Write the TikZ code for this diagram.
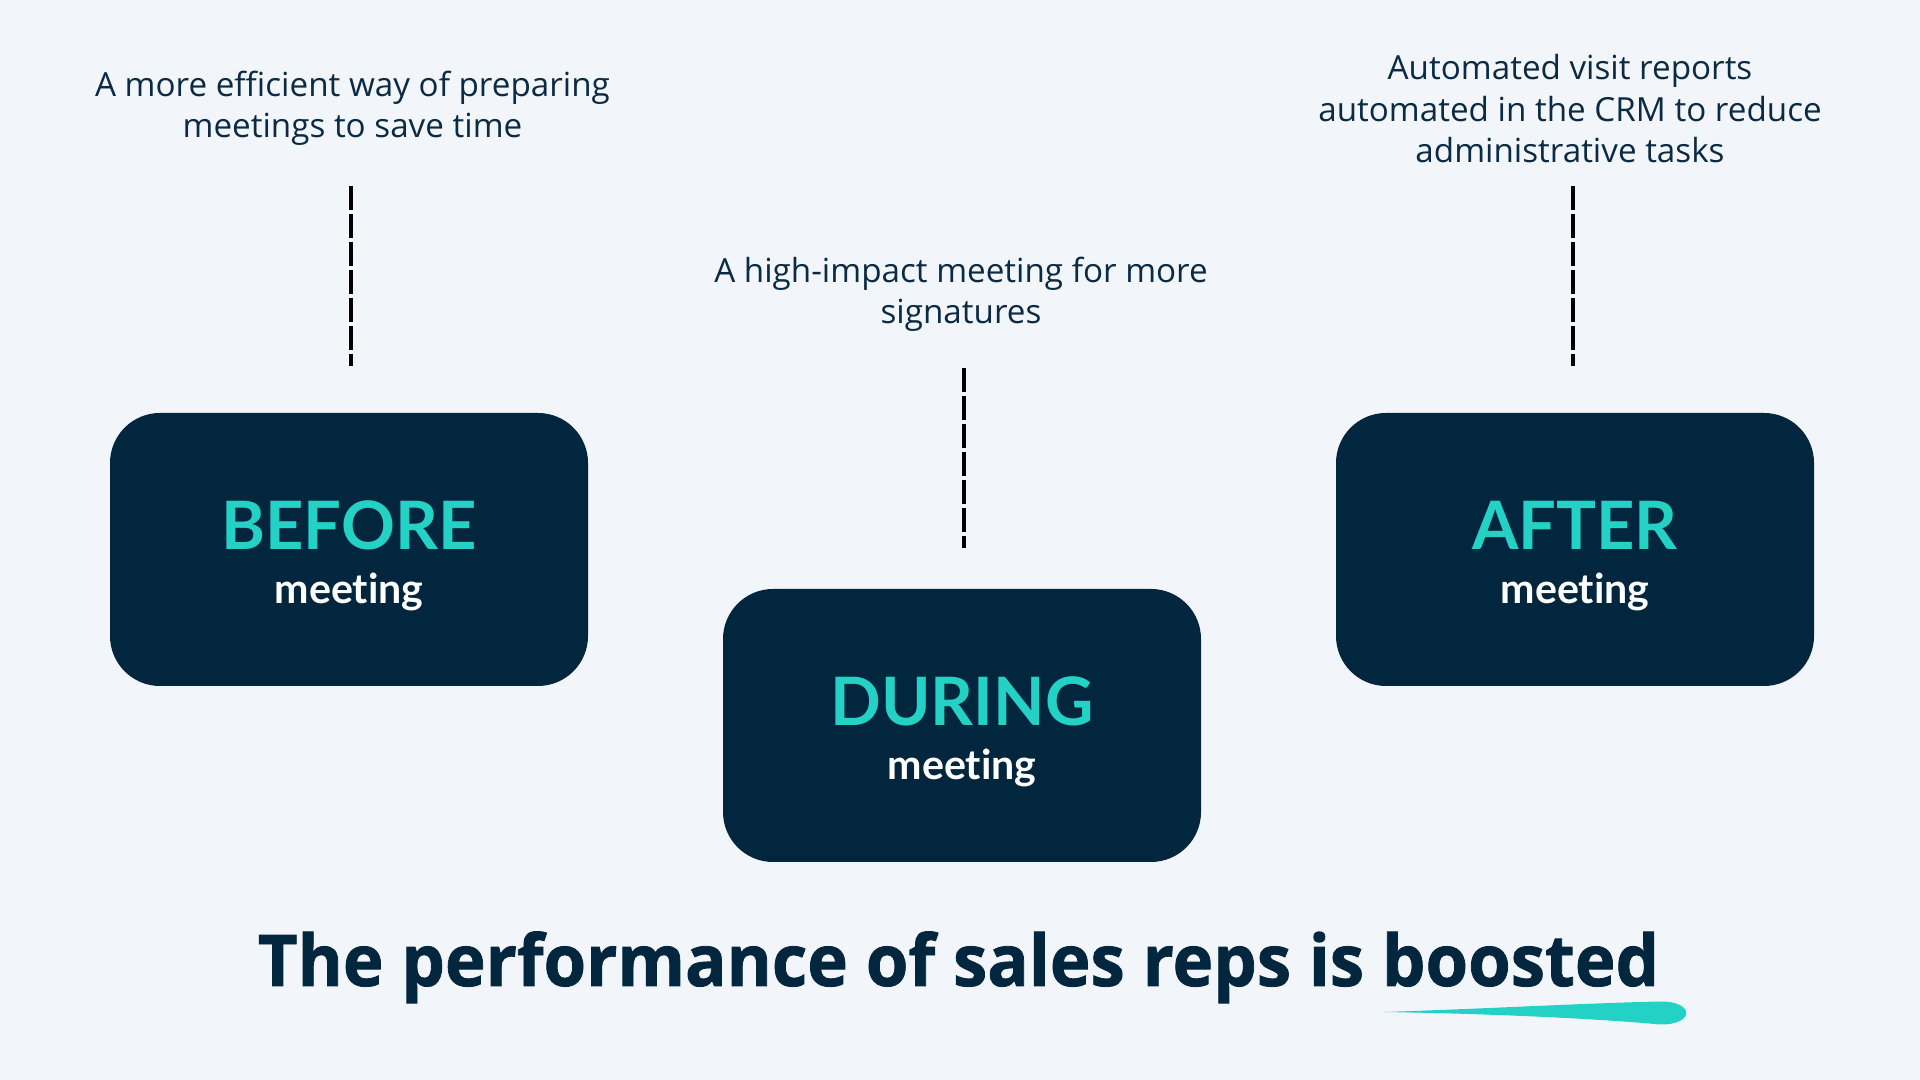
\documentclass[tikz,border=0pt]{standalone}
\usepackage{fontspec}
\usepackage{xcolor}
\usepackage{tikz}
\setmainfont{Open Sans}
\newfontfamily\latofont{Lato}[RawFeature=-liga]
\newfontfamily\headfont{Open Sans}[BoldFeatures={FakeBold=1.1}]
\definecolor{pagebg}{HTML}{F2F6FB}
\definecolor{boxnavy}{HTML}{02263E}
\definecolor{inknavy}{HTML}{0B2A44}
\definecolor{brushteal}{HTML}{24D2C5}

\begin{document}
\begin{tikzpicture}[scale=1,
  stage/.style={fill=boxnavy,rounded corners=0.5cm,minimum width=4.78cm,minimum height=2.73cm,inner sep=0pt},
  stagehead/.style={anchor=base,inner sep=0pt,text=brushteal,font=\latofont\bfseries\fontsize{19pt}{19pt}\selectfont},
  stagesub/.style={anchor=base,inner sep=0pt,text=white,font=\latofont\bfseries\fontsize{11.7pt}{11.7pt}\selectfont},
  remark/.style={anchor=north,inner sep=0pt,align=center,text=inknavy,font=\fontsize{9.45pt}{11.7pt}\selectfont},
  guide/.style={black,line width=1.15pt,dash pattern=on 0.24cm off 0.04cm},
  headline/.style={anchor=base,inner sep=0pt,text=boxnavy,xscale=0.965,transform shape,font=\headfont\bfseries\fontsize{20.3pt}{20.3pt}\selectfont}]
\fill[pagebg] (0,0) rectangle (19.2,10.8);
\useasboundingbox (0,0) rectangle (19.2,10.8);

\node[stage] (before) at (3.49,5.305) {};
\node[stage] (during) at (9.62,3.545) {};
\node[stage] (after) at (15.75,5.305) {};

\node[stagehead] (beforehead) at (before.center) {BEFORE};
\node[stagesub] (beforesub) at ([yshift=-0.54cm]before.center) {meeting};
\node[stagehead] (duringhead) at (during.center) {DURING};
\node[stagesub] (duringsub) at ([yshift=-0.54cm]during.center) {meeting};
\node[stagehead] (afterhead) at (after.center) {AFTER};
\node[stagesub] (aftersub) at ([yshift=-0.54cm]after.center) {meeting};

\node[remark] (beforenote) at (3.525,10.10) {A more efficient way of preparing\\meetings to save time};
\node[remark] (duringnote) at (9.61,8.24) {A high-impact meeting for more\\signatures};
\node[remark] (afternote) at (15.70,10.26) {Automated visit reports\\automated in the CRM to reduce\\administrative tasks};

\draw[guide] ([xshift=0.02cm,yshift=2.26cm]before.north) -- ([xshift=0.02cm,yshift=0.46cm]before.north);
\draw[guide] ([xshift=0.02cm,yshift=2.20cm]during.north) -- ([xshift=0.02cm,yshift=0.40cm]during.north);
\draw[guide] ([xshift=-0.02cm,yshift=2.26cm]after.north) -- ([xshift=-0.02cm,yshift=0.46cm]after.north);

\node[headline] (headline) at (9.585,0.94) {The performance of sales reps is boosted};
\fill[brushteal] (13.83,0.68) .. controls (14.8,0.71) and (15.9,0.77) .. (16.6,0.785)
  .. controls (16.95,0.79) and (16.95,0.55) .. (16.6,0.555)
  .. controls (15.9,0.62) and (14.8,0.665) .. (13.83,0.68) -- cycle;
\end{tikzpicture}
\end{document}
